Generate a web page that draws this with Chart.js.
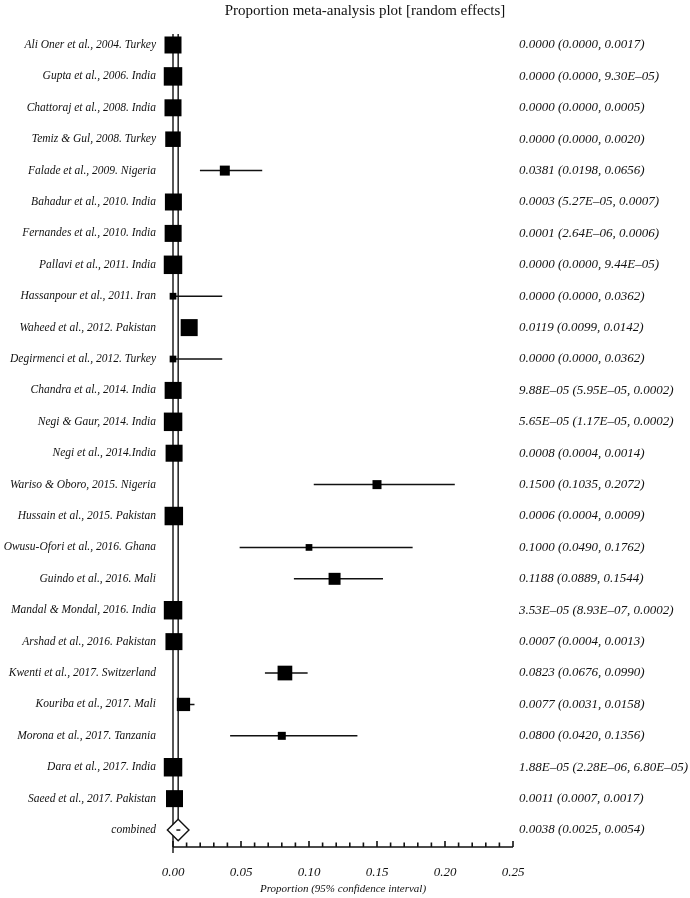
<!DOCTYPE html>
<html>
<head>
<meta charset="utf-8">
<script src="https://cdn.jsdelivr.net/npm/chart.js@4.4.1/dist/chart.umd.min.js"></script>
<style>
  html, body { margin: 0; padding: 0; background: #fff; }
</style>
</head>
<body>
<canvas id="forest" width="690" height="898"></canvas>
<script>
// study rows, top to bottom
var studies = [
  'Ali Oner et al., 2004. Turkey', 'Gupta et al., 2006. India', 'Chattoraj et al., 2008. India',
  'Temiz & Gul, 2008. Turkey', 'Falade et al., 2009. Nigeria', 'Bahadur et al., 2010. India',
  'Fernandes et al., 2010. India', 'Pallavi et al., 2011. India', 'Hassanpour et al., 2011. Iran',
  'Waheed et al., 2012. Pakistan', 'Degirmenci et al., 2012. Turkey', 'Chandra et al., 2014. India',
  'Negi & Gaur, 2014. India', 'Negi et al., 2014.India', 'Wariso & Oboro, 2015. Nigeria',
  'Hussain et al., 2015. Pakistan', 'Owusu-Ofori et al., 2016. Ghana', 'Guindo et al., 2016. Mali',
  'Mandal & Mondal, 2016. India', 'Arshad et al., 2016. Pakistan', 'Kwenti et al., 2017. Switzerland',
  'Kouriba et al., 2017. Mali', 'Morona et al., 2017. Tanzania', 'Dara et al., 2017. India',
  'Saeed et al., 2017. Pakistan'
];
var estimates = [0, 0, 0, 0, 0.0381, 0.0003, 0.0001, 0, 0, 0.0119, 0, 9.88e-5, 5.65e-5, 0.0008, 0.1500,
  0.0006, 0.1000, 0.1188, 3.53e-5, 0.0007, 0.0823, 0.0077, 0.0800, 1.88e-5, 0.0011];
var lower = [0, 0, 0, 0, 0.0198, 5.27e-5, 2.64e-6, 0, 0, 0.0099, 0, 5.95e-5, 1.17e-5, 0.0004, 0.1035,
  0.0004, 0.0490, 0.0889, 8.93e-7, 0.0004, 0.0676, 0.0031, 0.0420, 2.28e-6, 0.0007];
var upper = [0.0017, 9.30e-5, 0.0005, 0.0020, 0.0656, 0.0007, 0.0006, 9.44e-5, 0.0362, 0.0142, 0.0362,
  0.0002, 0.0002, 0.0014, 0.2072, 0.0009, 0.1762, 0.1544, 0.0002, 0.0013, 0.0990, 0.0158, 0.1356,
  6.80e-5, 0.0017];
// relative study weights
var weights = [4.0, 4.35, 4.0, 3.65, 2.35, 4.0, 4.0, 4.35, 1.58, 4.0, 1.58, 4.0, 4.35, 4.0, 2.12,
  4.35, 1.58, 2.82, 4.35, 4.0, 3.46, 3.13, 1.88, 4.35, 4.0];
var ciText = [
  '0.0000 (0.0000, 0.0017)', '0.0000 (0.0000, 9.30E\u201305)', '0.0000 (0.0000, 0.0005)',
  '0.0000 (0.0000, 0.0020)', '0.0381 (0.0198, 0.0656)', '0.0003 (5.27E\u201305, 0.0007)',
  '0.0001 (2.64E\u201306, 0.0006)', '0.0000 (0.0000, 9.44E\u201305)', '0.0000 (0.0000, 0.0362)',
  '0.0119 (0.0099, 0.0142)', '0.0000 (0.0000, 0.0362)', '9.88E\u201305 (5.95E\u201305, 0.0002)',
  '5.65E\u201305 (1.17E\u201305, 0.0002)', '0.0008 (0.0004, 0.0014)', '0.1500 (0.1035, 0.2072)',
  '0.0006 (0.0004, 0.0009)', '0.1000 (0.0490, 0.1762)', '0.1188 (0.0889, 0.1544)',
  '3.53E\u201305 (8.93E\u201307, 0.0002)', '0.0007 (0.0004, 0.0013)', '0.0823 (0.0676, 0.0990)',
  '0.0077 (0.0031, 0.0158)', '0.0800 (0.0420, 0.1356)', '1.88E\u201305 (2.28E\u201306, 6.80E\u201305)',
  '0.0011 (0.0007, 0.0017)'
];
var pooledLabel = 'combined';
var pooledEstimate = 0.0038;
var pooledLower = 0.0025;
var pooledUpper = 0.0054;
var pooledText = '0.0038 (0.0025, 0.0054)';
var xTicks = [0, 0.05, 0.10, 0.15, 0.20, 0.25];
var chartTitle = 'Proportion meta-analysis plot [random effects]';

var rowLabels = studies.concat([pooledLabel]);
var rightLabels = ciText.concat([pooledText]);
var pooledRow = studies.length;

var serif = "'Liberation Serif', 'DejaVu Serif', serif";
var ink = '#111';
var diamondR = 10.8;

var forestLines = {
  id: 'forestLines',
  beforeDatasetsDraw: function(chart) {
    var ctx = chart.ctx, xs = chart.scales.x, ys = chart.scales.y, area = chart.chartArea;
    ctx.save();
    ctx.strokeStyle = ink;
    ctx.lineWidth = 1.4;
    ctx.beginPath();
    var x0 = xs.getPixelForValue(0);
    ctx.moveTo(x0, area.top);
    ctx.lineTo(x0, area.bottom + 6);
    var xp = xs.getPixelForValue(pooledEstimate);
    ctx.moveTo(xp, area.top);
    ctx.lineTo(xp, ys.getPixelForValue(pooledRow) - diamondR);
    ctx.stroke();

    ctx.lineWidth = 1.5;
    ctx.beginPath();
    for (var i = 0; i < studies.length; i++) {
      var py = ys.getPixelForValue(i);
      ctx.moveTo(xs.getPixelForValue(lower[i]), py);
      ctx.lineTo(xs.getPixelForValue(upper[i]), py);
    }
    ctx.stroke();

    // x axis with inward ticks
    ctx.lineWidth = 1.6;
    ctx.beginPath();
    ctx.moveTo(area.left, area.bottom);
    ctx.lineTo(area.right, area.bottom);
    for (var k = 0; k <= 25; k++) {
      var px = xs.getPixelForValue(k / 100);
      ctx.moveTo(px, area.bottom);
      ctx.lineTo(px, area.bottom - (k % 5 === 0 ? 6 : 4.5));
    }
    ctx.stroke();
    ctx.restore();
  },
  afterDatasetsDraw: function(chart) {
    var ctx = chart.ctx, xs = chart.scales.x, ys = chart.scales.y;
    var py = ys.getPixelForValue(pooledRow);
    ctx.save();
    ctx.strokeStyle = ink;
    ctx.lineWidth = 1.5;
    ctx.beginPath();
    ctx.moveTo(xs.getPixelForValue(pooledLower), py);
    ctx.lineTo(xs.getPixelForValue(pooledUpper), py);
    ctx.stroke();
    // title sits a little right of centre in the original
    ctx.fillStyle = ink;
    ctx.font = '15px ' + serif;
    ctx.textAlign = 'center';
    ctx.textBaseline = 'middle';
    ctx.fillText(chartTitle, 365, 11);
    ctx.restore();
  }
};

function rowTicks(scale) {
  scale.ticks = rowLabels.map(function(l, i) { return { value: i }; });
}

new Chart(document.getElementById('forest').getContext('2d'), {
  type: 'scatter',
  data: {
    datasets: [
      {
        data: studies.map(function(s, i) { return { x: estimates[i], y: i }; }),
        pointStyle: 'rect',
        pointRadius: weights.map(function(w) { return w * 4.25 / Math.SQRT2; }),
        pointBackgroundColor: '#000',
        pointBorderWidth: 0,
        clip: false
      },
      {
        data: [{ x: pooledEstimate, y: pooledRow }],
        pointStyle: 'rectRot',
        pointRadius: diamondR,
        pointBackgroundColor: '#fff',
        pointBorderColor: ink,
        pointBorderWidth: 1.4,
        clip: false
      }
    ]
  },
  options: {
    responsive: false,
    animation: false,
    events: [],
    layout: { padding: { top: 34 } },
    plugins: {
      legend: { display: false },
      tooltip: { enabled: false },
      title: { display: false }
    },
    scales: {
      x: {
        type: 'linear',
        min: 0,
        max: 0.25,
        grid: { display: false, drawTicks: false },
        border: { display: false },
        afterBuildTicks: function(s) { s.ticks = xTicks.map(function(v) { return { value: v }; }); },
        afterFit: function(s) { s.height = 51; },
        ticks: {
          padding: 18,
          color: ink,
          font: { family: serif, size: 13, style: 'italic' },
          callback: function(v) { return Number(v).toFixed(2); }
        },
        title: {
          display: true,
          text: 'Proportion (95% confidence interval)',
          color: ink,
          font: { family: serif, size: 11, style: 'italic' },
          padding: { top: 0, bottom: 2 }
        }
      },
      y: {
        type: 'linear',
        position: 'left',
        reverse: true,
        min: -0.35,
        max: pooledRow + 0.54,
        grid: { display: false, drawTicks: false },
        border: { display: false },
        afterBuildTicks: rowTicks,
        afterFit: function(s) { s.width = 173; },
        ticks: {
          autoSkip: false,
          padding: 17,
          color: ink,
          font: { family: serif, size: 11.5, style: 'italic' },
          callback: function(v) { return rowLabels[v]; }
        }
      },
      yRight: {
        type: 'linear',
        position: 'right',
        reverse: true,
        min: -0.35,
        max: pooledRow + 0.54,
        grid: { display: false, drawTicks: false },
        border: { display: false },
        afterBuildTicks: rowTicks,
        afterFit: function(s) { s.width = 177; },
        ticks: {
          autoSkip: false,
          padding: 6,
          color: ink,
          font: { family: serif, size: 13, style: 'italic' },
          callback: function(v) { return rightLabels[v]; }
        }
      }
    }
  },
  plugins: [forestLines]
});
</script>
</body>
</html>
